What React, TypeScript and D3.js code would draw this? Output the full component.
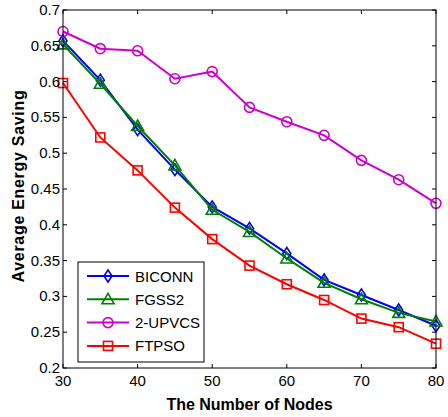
import React from "react";
import * as d3 from "d3";

const nodes = [30, 35, 40, 45, 50, 55, 60, 65, 70, 75, 80];
const biconn = [0.657, 0.602, 0.533, 0.477, 0.425, 0.395, 0.36, 0.323, 0.302, 0.281, 0.259];
const fgss2 = [0.652, 0.597, 0.538, 0.483, 0.421, 0.39, 0.353, 0.319, 0.296, 0.277, 0.265];
const upvcs = [0.67, 0.646, 0.643, 0.604, 0.614, 0.564, 0.544, 0.525, 0.49, 0.463, 0.43];
const ftpso = [0.598, 0.522, 0.476, 0.424, 0.38, 0.343, 0.317, 0.295, 0.269, 0.257, 0.234];

const xTicks = [30, 40, 50, 60, 70, 80];
const yTicks = [0.2, 0.25, 0.3, 0.35, 0.4, 0.45, 0.5, 0.55, 0.6, 0.65, 0.7];

type Shape = "diamond" | "triangle" | "circle" | "square";
const series: { name: string; values: number[]; color: string; shape: Shape }[] = [
  { name: "BICONN", values: biconn, color: "#0000ff", shape: "diamond" },
  { name: "FGSS2", values: fgss2, color: "#008000", shape: "triangle" },
  { name: "2-UPVCS", values: upvcs, color: "#cc00cc", shape: "circle" },
  { name: "FTPSO", values: ftpso, color: "#ff0000", shape: "square" },
];

const W = 448;
const H = 417;
const left = 63;
const right = 436;
const top = 10;
const bottom = 368;

const x = d3.scaleLinear().domain([30, 80]).range([left, right]);
const y = d3.scaleLinear().domain([0.2, 0.7]).range([bottom, top]);

function Marker({ shape, cx, cy, color }: { shape: Shape; cx: number; cy: number; color: string }) {
  const common = { fill: "none", stroke: color, strokeWidth: 1.6 };
  if (shape === "diamond")
    return <path d={`M${cx},${cy - 6}L${cx + 4},${cy}L${cx},${cy + 6}L${cx - 4},${cy}Z`} {...common} />;
  if (shape === "triangle")
    return <path d={`M${cx},${cy - 6}L${cx + 6},${cy + 4.5}L${cx - 6},${cy + 4.5}Z`} {...common} />;
  if (shape === "circle") return <circle cx={cx} cy={cy} r={5} {...common} />;
  return <rect x={cx - 4.5} y={cy - 4.5} width={9} height={9} {...common} />;
}

export default function App() {
  const line = d3
    .line<number>()
    .x((_, i) => x(nodes[i]))
    .y((d) => y(d));
  const font = "Arial, 'Liberation Sans', sans-serif";
  return (
    <svg width={W} height={H} style={{ position: "absolute", left: 0, top: 0, background: "#fff" }}>
      <rect width={W} height={H} fill="#fff" />
      {/* ticks on all four sides, pointing inward */}
      {xTicks.map((t) => (
        <g key={"x" + t} stroke="#000" strokeWidth={1}>
          <line x1={x(t)} x2={x(t)} y1={bottom} y2={bottom - 4} />
          <line x1={x(t)} x2={x(t)} y1={top} y2={top + 4} />
        </g>
      ))}
      {yTicks.map((t) => (
        <g key={"y" + t} stroke="#000" strokeWidth={1}>
          <line x1={left} x2={left + 4} y1={y(t)} y2={y(t)} />
          <line x1={right} x2={right - 4} y1={y(t)} y2={y(t)} />
        </g>
      ))}
      {series.map((s) => (
        <g key={s.name}>
          <path d={line(s.values) || ""} fill="none" stroke={s.color} strokeWidth={2} />
          {s.values.map((v, i) => (
            <Marker key={i} shape={s.shape} cx={x(nodes[i])} cy={y(v)} color={s.color} />
          ))}
        </g>
      ))}
      <rect x={left} y={top} width={right - left} height={bottom - top} fill="none" stroke="#000" strokeWidth={1} />
      {xTicks.map((t) => (
        <text key={"xl" + t} x={x(t)} y={bottom + 18} textAnchor="middle" fontFamily={font} fontSize={15} fill="#000">
          {t}
        </text>
      ))}
      {yTicks.map((t) => (
        <text key={"yl" + t} x={left - 3} y={y(t) + 5} textAnchor="end" fontFamily={font} fontSize={15} fill="#000">
          {t}
        </text>
      ))}
      <text x={(left + right) / 2} y={410} textAnchor="middle" fontFamily={font} fontSize={16} fontWeight="bold" fill="#000">
        The Number of Nodes
      </text>
      <text
        transform={`translate(24,186) rotate(-90)`}
        textAnchor="middle"
        fontFamily={font}
        fontSize={16}
        fontWeight="bold"
        letterSpacing={0.7}
        fill="#000"
      >
        Average Energy Saving
      </text>
      {/* legend */}
      <rect x={78} y={262} width={126} height={100} fill="#fff" stroke="#000" strokeWidth={1} />
      {series.map((s, i) => {
        const ly = 276 + i * 23.3;
        return (
          <g key={"lg" + s.name}>
            <line x1={87} x2={129} y1={ly} y2={ly} stroke={s.color} strokeWidth={2} />
            <Marker shape={s.shape} cx={108} cy={ly} color={s.color} />
            <text x={135} y={ly + 5.5} fontFamily={font} fontSize={15} fill="#000">
              {s.name}
            </text>
          </g>
        );
      })}
    </svg>
  );
}
